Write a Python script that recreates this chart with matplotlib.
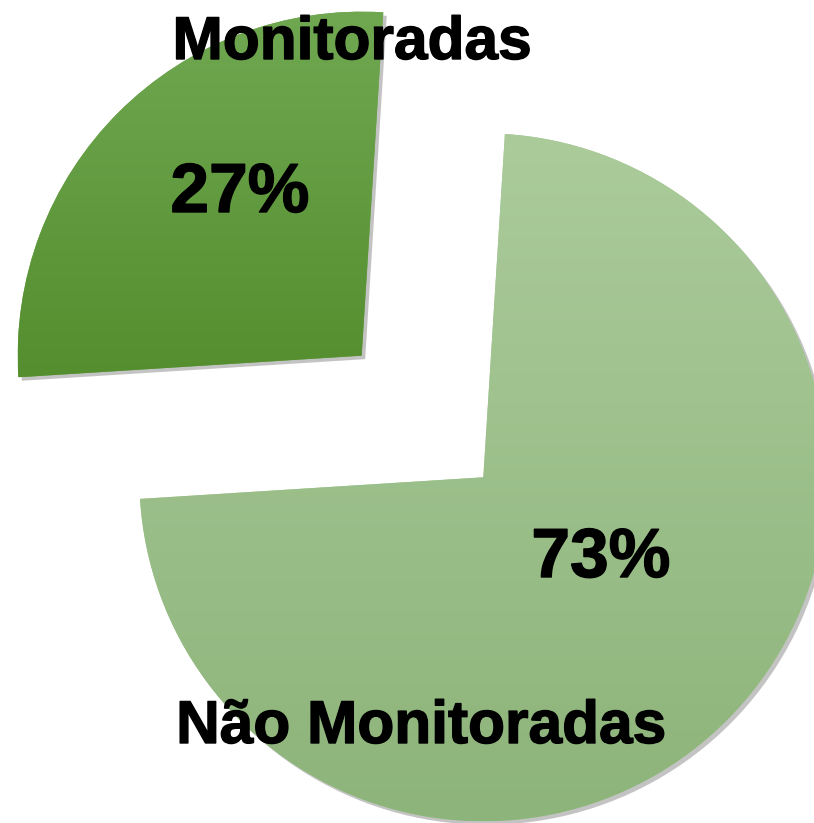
import numpy as np
import matplotlib
matplotlib.use("Agg")
import matplotlib.pyplot as plt
import matplotlib.patheffects as pe
from matplotlib.colors import LinearSegmentedColormap

# ---- data ----
categories = ["Não Monitoradas", "Monitoradas"]
values = [73, 27]
pct_labels = ["73%", "27%"]
top_colors = ["#abcb9b", "#70a852"]
bottom_colors = ["#8db47a", "#548e2e"]

W, H = 814, 823
fig = plt.figure(figsize=(W / 100, H / 100), dpi=100)
ax = fig.add_axes([0, 0, 1, 1])

R = 344
# explode is in data units (pixels here) for matplotlib's pie
wedges, _ = ax.pie(values, startangle=86.4, counterclock=False,
                   explode=[86, 86], radius=R, center=(422.5, 406.5),
                   colors=top_colors, frame=True)
ax.set_xlim(0, W)
ax.set_ylim(0, H)
ax.set_aspect("equal")
ax.axis("off")

for w, ct, cb in zip(wedges, top_colors, bottom_colors):
    w.set_linewidth(0)
    w.set_path_effects([pe.SimplePatchShadow(offset=(2.5, -2.5), shadow_rgbFace="#555555", alpha=0.35),
                        pe.Normal()])
    ext = w.get_path().get_extents()
    cmap = LinearSegmentedColormap.from_list("g", [cb, ct])
    grad = np.linspace(0, 1, 256).reshape(-1, 1)
    im = ax.imshow(grad, cmap=cmap, origin="lower", aspect="auto",
                   extent=[ext.x0, ext.x1, ext.y0, ext.y1], zorder=w.get_zorder() + 0.1)
    im.set_clip_path(w)

ax.set_xlim(0, W)
ax.set_ylim(0, H)

font = "Liberation Sans"
heavy = [pe.withStroke(linewidth=1.0, foreground="black")]
# category labels
ax.text(352, H - 59, categories[1], ha="center", va="baseline", fontsize=43.5,
        fontweight="bold", family=font, color="black", zorder=10, path_effects=heavy)
ax.text(421, H - 743, categories[0], ha="center", va="baseline", fontsize=43.5,
        fontweight="bold", family=font, color="black", zorder=10, path_effects=heavy)
# percentage labels
ax.text(240, H - 212, pct_labels[1], ha="center", va="baseline", fontsize=50,
        fontweight="bold", family=font, color="black", zorder=10, path_effects=heavy)
ax.text(601, H - 577, pct_labels[0], ha="center", va="baseline", fontsize=50,
        fontweight="bold", family=font, color="black", zorder=10, path_effects=heavy)

fig.savefig("out.png", dpi=100, facecolor="white")
